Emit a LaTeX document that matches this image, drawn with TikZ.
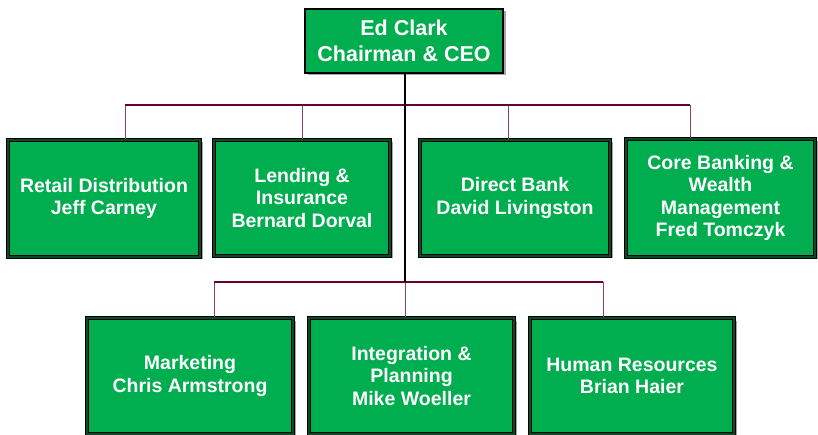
\documentclass[tikz,border=0pt]{standalone}
\usepackage{fontspec}
\setmainfont{Liberation Sans}
\begin{document}
\definecolor{boxgreen}{HTML}{00AD4F}
\definecolor{rimgreen}{HTML}{0B4A25}
\definecolor{maroon}{HTML}{660033}
\begin{tikzpicture}[x=1pt,y=-1pt,
  unitbox/.style={fill=boxgreen, draw=black, line width=1.1pt,
    double=rimgreen, double distance=1.3pt, inner sep=0pt,
    text=white, font=\bfseries\fontsize{19.5}{22.5}\selectfont, align=center},
  headbox/.style={fill=boxgreen, draw=black, line width=2.4pt, inner sep=0pt,
    text=white, font=\bfseries\fontsize{21.5}{26}\selectfont, align=center},
  shade/.style={fill=black!35},
  spine/.style={draw=black, line width=2.2pt},
  bar/.style={draw=maroon, line width=2.4pt},
  drop/.style={draw=maroon!75, line width=1pt}]
\useasboundingbox (0,0) rectangle (818,435);

% shadows under the boxes
\foreach \a/\b/\c/\d in {305/9/503/73, 8/140/200/257, 214/140/390/256,
  420/140/610/256, 626/139/815/257, 87/318/293/440, 309/318/514/440,
  530/318/734/440}
  \fill[shade] (\a+2.5,\b+2.5) rectangle (\c+2.5,\d+2.5);

% reporting lines
\coordinate (j2) at (405,282);
\coordinate (bl) at (125,105);
\coordinate (br) at (690,105);
\coordinate (cl) at (214,282);
\coordinate (cr) at (603,282);

% boxes
\node[headbox, minimum width=198pt, minimum height=64pt] (ceo) at (404,41)
  {Ed Clark\\Chairman \& CEO};

\node[unitbox, minimum width=192pt, minimum height=117pt] (retail) at (104,198.5)
  {Retail Distribution\\Jeff Carney};
\node[unitbox, minimum width=176pt, minimum height=116pt] (lending) at (302,198)
  {Lending \&\\Insurance\\Bernard Dorval};
\node[unitbox, minimum width=190pt, minimum height=116pt] (direct) at (515,198)
  {Direct Bank\\David Livingston};
\node[unitbox, minimum width=189pt, minimum height=118pt] (core) at (720.5,198)
  {Core Banking \&\\Wealth\\Management\\Fred Tomczyk};

\node[unitbox, minimum width=206pt, minimum height=116pt] (mkt) at (190,376)
  {Marketing\\Chris Armstrong};
\node[unitbox, minimum width=205pt, minimum height=116pt] (integ) at (411.5,376)
  {Integration \&\\Planning\\Mike Woeller};
\node[unitbox, minimum width=204pt, minimum height=116pt] (hr) at (632,376)
  {Human Resources\\Brian Haier};

\draw[drop] (retail.north -| bl) -- (bl);
\draw[drop] (lending.north) -- (lending.north |- bl);
\draw[drop] (508,140) -- (508,105);
\draw[drop] (core.north -| br) -- (br);
\draw[drop] (mkt.north -| cl) -- (cl);
\draw[drop] (integ.north -| j2) -- (j2);
\draw[drop] (hr.north -| cr) -- (cr);
\draw[bar] (bl) -- (br);
\draw[bar] (cl) -- (cr);
\draw[spine] (ceo.south -| j2) -- (j2);
\end{tikzpicture}
\end{document}
